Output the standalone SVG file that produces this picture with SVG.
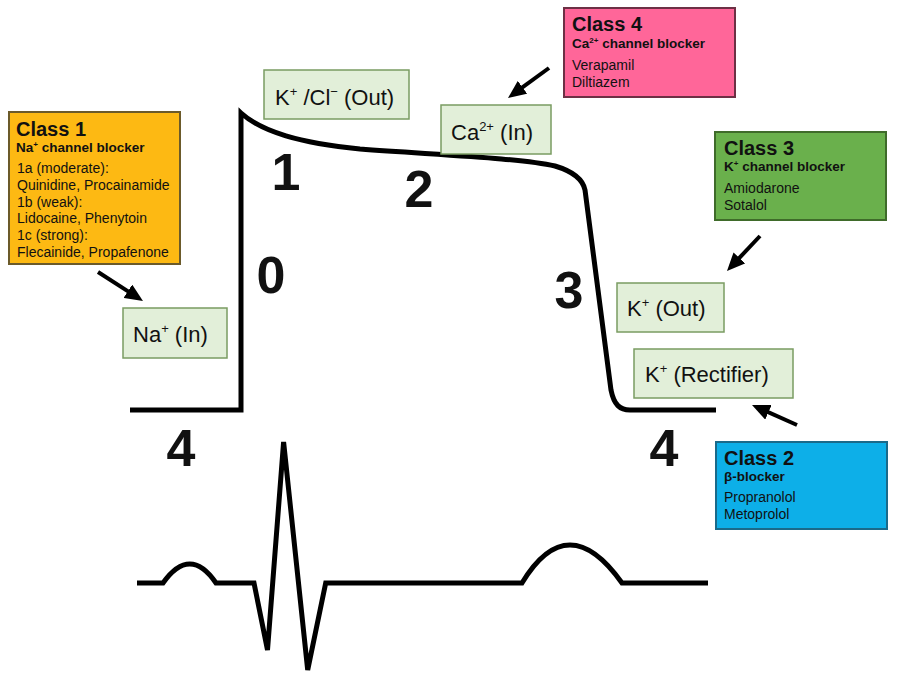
<svg xmlns="http://www.w3.org/2000/svg" width="900" height="690" viewBox="0 0 900 690">
<defs>
<marker id="ah" viewBox="0 0 18 16" refX="4" refY="8" markerWidth="18" markerHeight="16" markerUnits="userSpaceOnUse" orient="auto">
<path d="M0,0 L18,8 L0,16 z" fill="#000"/>
</marker>
<style>
text{font-family:"Liberation Sans",Arial,sans-serif;fill:#111}
.ion rect{fill:#e2efd9;stroke:#7a9c62;stroke-width:1.5}
.ion text{font-size:22px}
.cls rect{stroke-width:2}
.h{font-size:20px;font-weight:bold}
.s{font-size:13.5px;font-weight:bold}
.b{font-size:14px}
.num{font-size:52px;font-weight:bold;text-anchor:middle}
.curve{fill:none;stroke:#000;stroke-width:5;stroke-linejoin:miter}
.arr{stroke:#000;stroke-width:4;marker-end:url(#ah)}
</style>
</defs>
<rect width="900" height="690" fill="#fff"/>

<g id="action-potential">
<path class="curve" d="M130,410 L241,410 L241,113 C262,132 300,143 360,149 C440,155 520,158 555,166 C575,172 583,180 585,190 L611,390 C614,405 620,410 630,410 L716,410"/>
</g>

<g id="ecg">
<path class="curve" d="M137,583 L163,583 Q190,545 216,583 L254,583 L267.5,650 L283.6,442 L307.7,670 L325.7,583 L522,583 Q568,507 622,583 L708,583"/>
</g>

<g id="phase-labels">
<text class="num" x="286" y="190">1</text>
<text class="num" x="419" y="207">2</text>
<text class="num" x="271" y="293">0</text>
<text class="num" x="569" y="308">3</text>
<text class="num" x="181" y="466">4</text>
<text class="num" x="664" y="466">4</text>
</g>

<g id="ion-kcl" class="ion">
<rect x="264" y="70" width="145" height="49"/>
<text x="275" y="105">K<tspan font-size="13" dy="-9">+</tspan><tspan dy="9"> /Cl</tspan><tspan font-size="13" dy="-9">−</tspan><tspan dy="9"> (Out)</tspan></text>
</g>
<g id="ion-ca" class="ion">
<rect x="441" y="105" width="110" height="49"/>
<text x="451" y="140">Ca<tspan font-size="13" dy="-9">2+</tspan><tspan dy="9"> (In)</tspan></text>
</g>
<g id="ion-na" class="ion">
<rect x="123" y="308" width="104" height="50"/>
<text x="133" y="342">Na<tspan font-size="13" dy="-9">+</tspan><tspan dy="9"> (In)</tspan></text>
</g>
<g id="ion-kout" class="ion">
<rect x="617" y="283" width="107" height="49"/>
<text x="627" y="316">K<tspan font-size="13" dy="-9">+</tspan><tspan dy="9"> (Out)</tspan></text>
</g>
<g id="ion-krect" class="ion">
<rect x="634" y="349" width="159" height="49"/>
<text x="645" y="382">K<tspan font-size="13" dy="-9">+</tspan><tspan dy="9"> (Rectifier)</tspan></text>
</g>

<g id="class1" class="cls">
<rect x="9" y="112" width="171" height="152" fill="#fdb913" stroke="#6b5a2a"/>
<text class="h" x="16" y="136">Class 1</text>
<text class="s" x="16" y="152">Na<tspan font-size="8" dy="-5">+</tspan><tspan dy="5"> channel blocker</tspan></text>
<text class="b" x="17" y="173">1a (moderate):</text>
<text class="b" x="17" y="190">Quinidine, Procainamide</text>
<text class="b" x="17" y="207">1b (weak):</text>
<text class="b" x="17" y="223">Lidocaine, Phenytoin</text>
<text class="b" x="17" y="240">1c (strong):</text>
<text class="b" x="17" y="257">Flecainide, Propafenone</text>
</g>

<g id="class4" class="cls">
<rect x="564" y="8" width="171" height="89" fill="#ff6699" stroke="#6d3045"/>
<text class="h" x="572" y="31">Class 4</text>
<text class="s" x="572" y="48">Ca<tspan font-size="8" dy="-5">2+</tspan><tspan dy="5"> channel blocker</tspan></text>
<text class="b" x="572" y="70">Verapamil</text>
<text class="b" x="572" y="87">Diltiazem</text>
</g>

<g id="class3" class="cls">
<rect x="715" y="132" width="171" height="88" fill="#6ab04c" stroke="#3f6b2a"/>
<text class="h" x="724" y="155">Class 3</text>
<text class="s" x="724" y="171">K<tspan font-size="8" dy="-5">+</tspan><tspan dy="5"> channel blocker</tspan></text>
<text class="b" x="724" y="193">Amiodarone</text>
<text class="b" x="724" y="210">Sotalol</text>
</g>

<g id="class2" class="cls">
<rect x="716" y="442" width="171" height="87" fill="#0dafe8" stroke="#1a6a8a"/>
<text class="h" x="724" y="465">Class 2</text>
<text class="s" x="724" y="481">β-blocker</text>
<text class="b" x="724" y="502">Propranolol</text>
<text class="b" x="724" y="519">Metoprolol</text>
</g>

<g id="connectors">
<line class="arr" x1="98" y1="272" x2="131.2" y2="293.4"/>
<line class="arr" x1="549" y1="68" x2="519.3" y2="89.7"/>
<line class="arr" x1="760" y1="236" x2="736.6" y2="260.8"/>
<line class="arr" x1="797" y1="425" x2="764.8" y2="410.7"/>
</g>
</svg>
